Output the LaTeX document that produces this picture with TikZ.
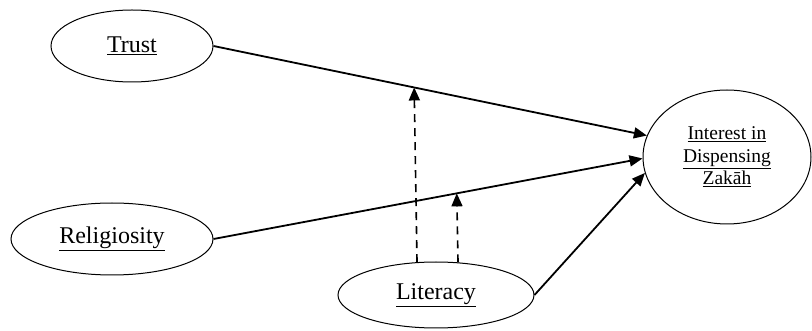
\documentclass[tikz,border=0pt]{standalone}
\usepackage{fontspec}
\setmainfont{Liberation Serif}
\usetikzlibrary{shapes.geometric,arrows.meta}
\begin{document}
\begin{tikzpicture}[x=1pt,y=-1pt,
  var/.style={ellipse,draw,line width=1pt,inner sep=0pt,font=\fontsize{24}{28}\selectfont},
  effect/.style={line width=1.8pt,-{Triangle[length=13pt,width=11pt]}},
  moder/.style={line width=1.6pt,dash pattern=on 8pt off 6pt,-{Triangle[length=13pt,width=11pt]}}]
\useasboundingbox (0,0) rectangle (812,331);
\node[var,minimum width=162pt,minimum height=72pt] (trust) at (132,46) {\underline{Trust}};
\node[var,minimum width=202pt,minimum height=72pt] (relig) at (112,239) {\underline{Religiosity}};
\node[var,minimum width=196pt,minimum height=66pt] (lit) at (436,295) {\underline{Literacy}};
\node[var,minimum width=168pt,minimum height=134pt,align=center,font=\fontsize{19.5}{22.5}\selectfont] (zak) at (727,157)
  {\underline{Interest in}\\\underline{Dispensing}\\\underline{Zakāh}};
\draw[effect] (trust.east) -- coordinate[pos=0.463] (m1) (zak.165);
\draw[effect] (relig.east) -- coordinate[pos=0.567] (m2) (zak.181);
\draw[effect] (lit.east) -- (zak.191);
\draw[moder] (lit.120) -- (m1);
\draw[moder] (lit.56) -- (m2);
\end{tikzpicture}
\end{document}
